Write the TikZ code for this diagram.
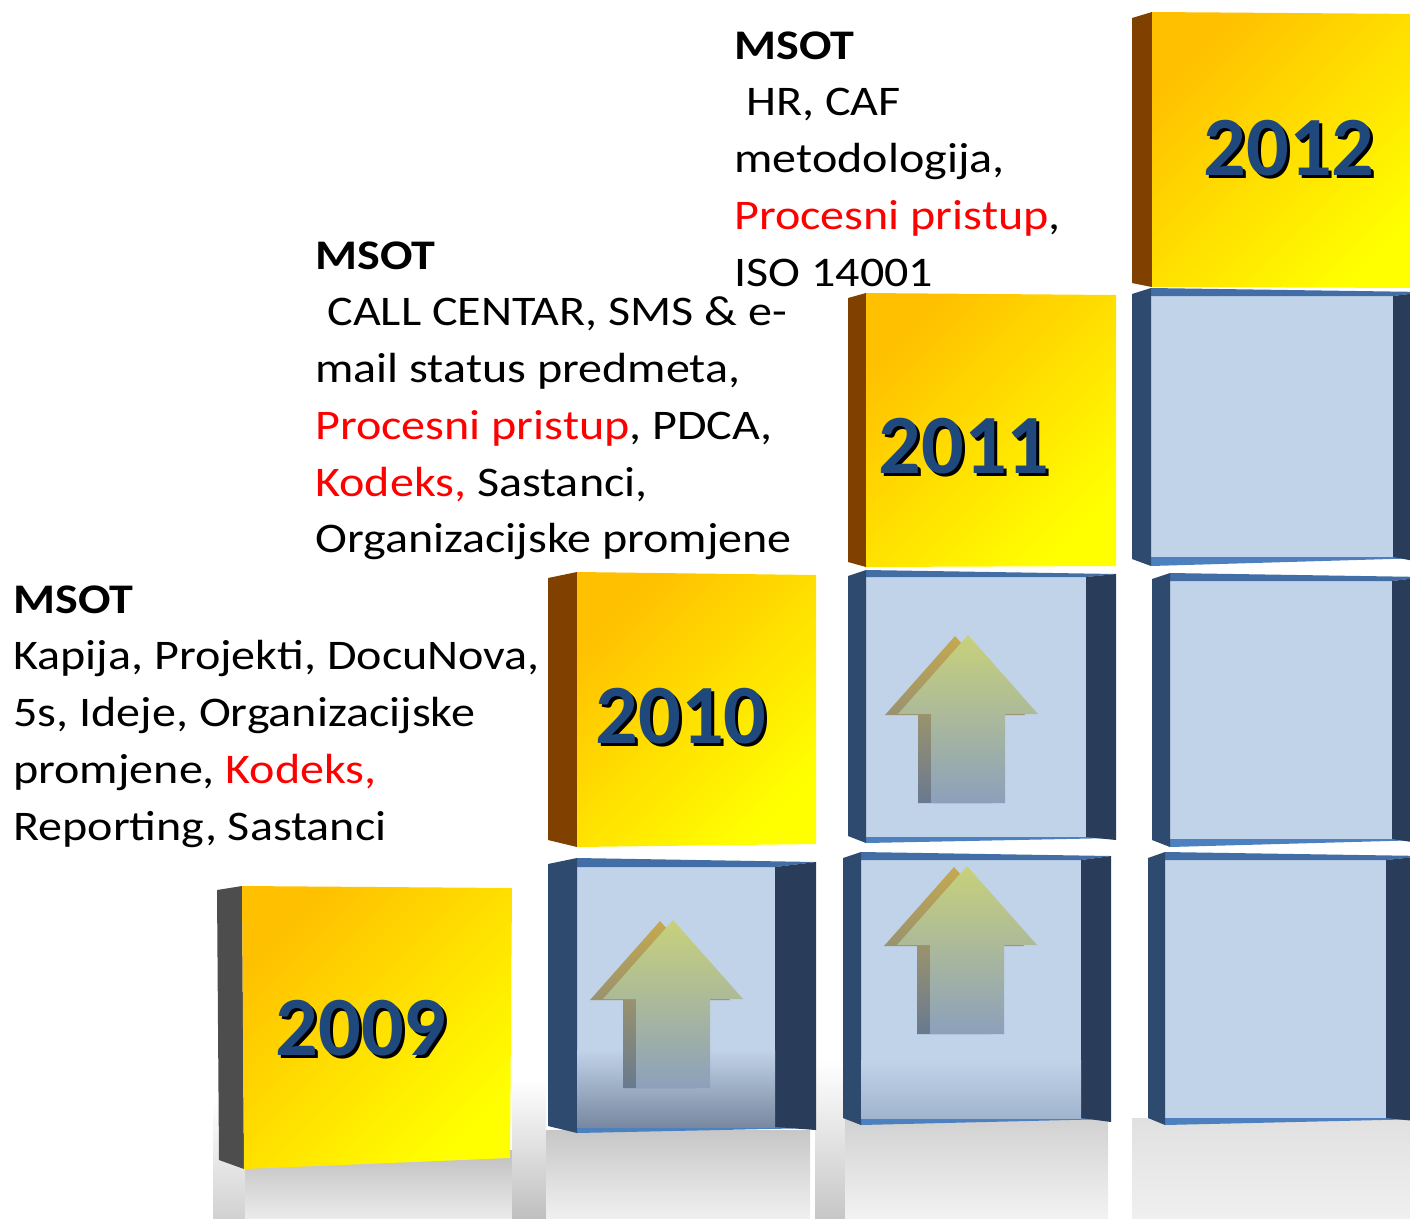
\documentclass[tikz,border=0pt]{standalone}
\usepackage{fontspec}
\setmainfont{Carlito}
\usepackage{xcolor}
\usepackage{tikz}
\usetikzlibrary{calc,positioning}

\definecolor{yearblue}{RGB}{31,73,125}
\definecolor{ytop}{RGB}{255,192,0}
\definecolor{ybot}{RGB}{255,255,0}
\definecolor{yside}{RGB}{127,64,0}
\definecolor{gside}{RGB}{77,77,77}
\definecolor{binner}{RGB}{193,211,233}
\definecolor{bleft}{RGB}{46,74,110}
\definecolor{bright}{RGB}{41,61,90}
\definecolor{btop}{RGB}{66,110,165}
\definecolor{bbot}{RGB}{77,128,190}
\definecolor{ahead}{RGB}{200,209,122}
\definecolor{amid}{RGB}{190,184,160}
\definecolor{afoot}{RGB}{140,160,188}
\definecolor{ashade}{RGB}{197,169,79}
\definecolor{ashaft}{RGB}{104,121,144}
\definecolor{msred}{RGB}{255,0,0}

% year number with a black drop shadow
\newcommand{\yeartext}[1]{\makebox[0pt][l]{\hspace*{1.7pt}\raisebox{-1.7pt}{\color{black}#1}}#1}

\begin{document}
\begin{tikzpicture}
        [x=0.02cm, y=-0.02cm,
          year/.style={font=\fontsize{48}{58}\selectfont\bfseries, text=yearblue, inner sep=0},
          info/.style={font=\fontsize{24}{32.3}\selectfont, align=left, anchor=north west,
            inner sep=0, xscale=1.14, transform shape},
          yface/.style={top color=ytop, bottom color=ybot, shading angle=45},
          uparrow/.style={top color=ahead, middle color=amid, bottom color=afoot},
          upshadow/.style={top color=ashade, bottom color=ashaft}]
        \useasboundingbox (0,0) rectangle (1410,1218);
        \clip (0,0) rectangle (1410,1218);

        % floor reflections
        \shade[top color=white, middle color=black!45, bottom color=black!18] (213,1100) rectangle (245,1218);
        \shade[top color=black!25, bottom color=black!8] (245,1150) rectangle (512,1218);
        \shade[top color=white, middle color=black!45, bottom color=black!25] (512,1080) rectangle (546,1218);
        \shade[top color=black!22, bottom color=black!6] (546,1130) rectangle (810,1218);
        \shade[top color=white, middle color=black!45, bottom color=black!22] (815,1060) rectangle (845,1218);
        \shade[top color=black!18, bottom color=black!5] (845,1118) rectangle (1108,1218);
        \shade[top color=black!12, bottom color=black!6] (1132,1118) rectangle (1410,1218);

        % blue boxes
        \foreach \xA/\xB/\xC/\xD/\yA/\yB/\yC/\yD in
          {548/577/775/816/858/867/1127/1133, 848/866/1086/1116/570/577/837/843,
           843/861/1081/1111/852/860/1118/1125, 1132/1151/1393/1425/288/296/557/566,
           1152/1170/1392/1425/573/581/839/847, 1148/1165/1386/1425/852/860/1118/1125}{
          \fill[binner] (\xB,\yB) rectangle (\xC,\yC);
          \fill[btop] (\xB,\yA) -- (\xD,\yA+4) -- (\xC,\yB) -- (\xB,\yB) -- cycle;
          \fill[bbot] (\xB,\yC) -- (\xC,\yC) -- (\xD,\yC+1) -- (\xB,\yD) -- cycle;
          \fill[bleft] (\xA,\yA+6) -- (\xB,\yA) -- (\xB,\yD) -- (\xA,\yD-7) -- cycle;
          \fill[bright] (\xC,\yB) -- (\xD,\yA+4) -- (\xD,\yD-3) -- (\xC,\yC) -- cycle;
        }
        \shade[top color=binner, bottom color=afoot!85!black] (577,1050) rectangle (775,1127);
        \shade[top color=binner, bottom color=afoot!60!binner] (861,1060) rectangle (1081,1118);

        % arrows
        \foreach \ax/\ay in {673/920, 968/635, 967/866}{
          \begin{scope}[shift={(\ax,\ay)}]
            \shade[upshadow] (-13,1) -- (57,80) -- (24,80) -- (24,168) -- (-50,168) -- (-50,80) -- (-83,80) -- cycle;
            \shade[uparrow] (0,0) -- (70,79) -- (37,79) -- (37,168) -- (-37,168) -- (-37,79) -- (-70,79) -- cycle;
          \end{scope}
        }

        % yellow year boxes
        \fill[gside] (217,890) -- (242,886) -- (244,1169) -- (219,1160) -- cycle;
        \shade[yface] (242,886) -- (512,888) -- (510,1158) -- (244,1169) -- cycle;
        \fill[yside] (548,578) -- (577,572) -- (577,847) -- (548,840) -- cycle;
        \shade[yface] (577,572) -- (816,575) -- (816,844) -- (577,847) -- cycle;
        \fill[yside] (848,298) -- (866,293) -- (866,567) -- (848,562) -- cycle;
        \shade[yface] (866,293) -- (1116,295) -- (1116,566) -- (866,567) -- cycle;
        \fill[yside] (1132,18) -- (1152,12) -- (1152,287) -- (1132,283) -- cycle;
        \shade[yface] (1152,12) -- (1425,14) -- (1425,288) -- (1152,287) -- cycle;

        \node[year] (y2009) at (361,1030) {\yeartext{2009}};
        \node[year] (y2010) at (681,718) {\yeartext{2010}};
        \node[year] (y2011) at (964,448) {\yeartext{2011}};
        \node[year] (y2012) at (1289,150) {\yeartext{2012}};

        % texts
        \node[info] (txt2009) at (13,585) {{\bfseries MSOT}\\
          Kapija, Projekti, DocuNova,\\
          5s, Ideje, Organizacijske\\
          promjene, {\color{msred}Kodeks,}\\
          Reporting, Sastanci};
        \node[info] (txt2010) at (315,241) {{\bfseries MSOT}\\
          \hspace{0.25em}CALL CENTAR, SMS \& e-\\
          mail status predmeta,\\
          {\color{msred}Procesni pristup}, PDCA,\\
          {\color{msred}Kodeks,} Sastanci,\\
          Organizacijske promjene};
        \node[info] (txt2011) at (734,31) {{\bfseries MSOT}\\
          \hspace{0.25em}HR, CAF\\
          metodologija,\\
          {\color{msred}Procesni pristup},\\
          ISO 14001};
      \end{tikzpicture}
\end{document}
